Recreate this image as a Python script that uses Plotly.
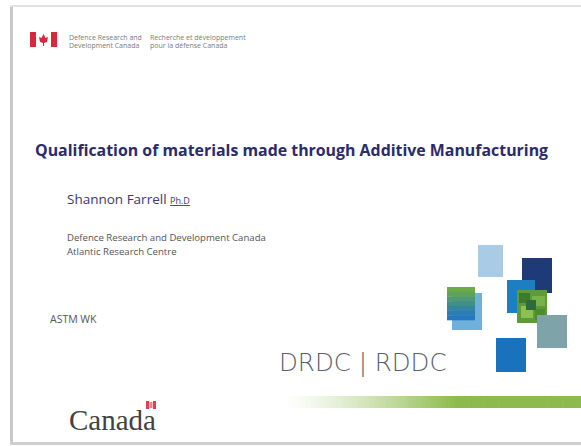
import plotly.graph_objects as go

# ---- content ----
header_en = ["Defence Research and", "Development Canada"]
header_fr = ["Recherche et développement", "pour la défense Canada"]
title_text = "Qualification of materials made through Additive Manufacturing"
author_name = "Shannon Farrell"
author_suffix = "Ph.D"
affiliation = ["Defence Research and Development Canada", "Atlantic Research Centre"]
event_text = "ASTM WK"
brand_text = "DRDC | RDDC"
wordmark = "Canada"

W, H = 581, 446
fig = go.Figure()
shapes = []
ann = []

def rect(x0, y0, x1, y1, color, layer="above"):
    shapes.append(dict(type="rect", x0=x0, y0=y0, x1=x1, y1=y1, xref="x", yref="y",
                       fillcolor=color, line=dict(width=0), layer=layer))

def text(x, y, s, size, color, family="Open Sans", xanchor="left", yanchor="middle", bold=False, weight=None):
    f = dict(size=size, color=color, family=family)
    if weight is not None:
        f["weight"] = weight
    ann.append(dict(x=x, y=y, xref="x", yref="y", text=("<b>%s</b>" % s) if bold else s,
                    showarrow=False, xanchor=xanchor, yanchor=yanchor, font=f))

# slide frame (left, top, bottom edges)
rect(10, 5, 13, 445, "#c8c8c8")
rect(10, 5, 581, 7, "#e2e2e2")
rect(10, 442, 581, 445, "#cfcfcf")

# header flag logo
rect(30, 32, 36, 47, "#d8283c")
rect(51, 32, 57, 47, "#d8283c")
shapes.append(dict(type="path", xref="x", yref="y",
                   path="M43.5,34 L45.5,38 L48,37 L47,42 L44,43 L44,46 L43,46 L43,43 L40,42 L39,37 L41.5,38 Z",
                   fillcolor="#d8283c", line=dict(width=0)))
for i, s in enumerate(header_en):
    text(67, 37 + i * 8, s, 7, "#7a7a7a")
for i, s in enumerate(header_fr):
    text(148, 37 + i * 8, s, 7, "#7a7a7a")

# title
text(33, 150, title_text, 15.9, "#2b2b6b", bold=True)

# author
ann.append(dict(x=65, y=199, xref="x", yref="y",
                text=author_name + ' <span style="font-size:9px"><u>' + author_suffix + '</u></span>',
                showarrow=False, xanchor="left", yanchor="middle",
                font=dict(size=13.5, color="#3a3a6e", family="Open Sans")))

for i, s in enumerate(affiliation):
    text(65, 237 + i * 14, s, 9.6, "#555555")
text(48, 319, event_text, 10.5, "#555555")

# squares
rect(478, 245, 503, 277, "#a9cbe6")
rect(522, 258, 552, 293, "#1f3a78")
rect(507, 280, 535, 313, "#1d7fc2")
# green textured square
rect(517, 290, 547, 323, "#5f9a3a")
for (a, b, c, d, col) in [(519, 293, 530, 303, "#3f7a2a"), (532, 296, 545, 306, "#7ab24a"),
                          (521, 306, 533, 318, "#8cc050"), (535, 309, 545, 320, "#4c8a34"),
                          (526, 300, 536, 310, "#2f6a3a")]:
    rect(a, b, c, d, col)
rect(537, 315, 567, 348, "#7ea3a8")
# left gradient square with shadow
rect(452, 293, 482, 330, "#6fb0dc")
bands = ["#6cab4a", "#5fa35a", "#4f9a70", "#428f88", "#3685a0", "#2c7db4", "#2677c0"]
n = len(bands)
for i, col in enumerate(bands):
    rect(447, 287 + i * 33 / n, 475, 287 + (i + 1) * 33 / n + 0.3, col)
rect(496, 338, 526, 372, "#1a72bd")

# brand text
text(277, 362, brand_text, 24.5, "#56606a", family="DejaVu Sans", weight=300)

# green gradient bar (opaque blends so overlaps don't show)
steps = 80
x0g, x1g = 280, 581
g = (140, 186, 76)
for i in range(steps):
    t = i / (steps - 1)
    a = min(1.0, t * 1.7) ** 1.3
    col = "rgb(%d,%d,%d)" % tuple(round(255 * (1 - a) + c * a) for c in g)
    rect(x0g + (x1g - x0g) * i / steps, 396, x0g + (x1g - x0g) * (i + 1) / steps + 0.6, 408, col)

# Canada wordmark
text(67, 420, wordmark, 29, "#424242", family="Liberation Serif")
rect(146, 401, 149, 409, "#e04050")
rect(153, 401, 156, 409, "#e04050")
rect(149.5, 402, 152.5, 408, "#ee8090")

fig.update_layout(
    width=W, height=H, margin=dict(l=0, r=0, t=0, b=0),
    paper_bgcolor="white", plot_bgcolor="white",
    xaxis=dict(range=[0, W], visible=False, fixedrange=True),
    yaxis=dict(range=[H, 0], visible=False, fixedrange=True),
    shapes=shapes, annotations=ann, showlegend=False,
)
fig.write_html("out.html", config={"displayModeBar": False, "staticPlot": True},
               post_script="document.body.style.margin='0';document.body.style.overflow='hidden';")
